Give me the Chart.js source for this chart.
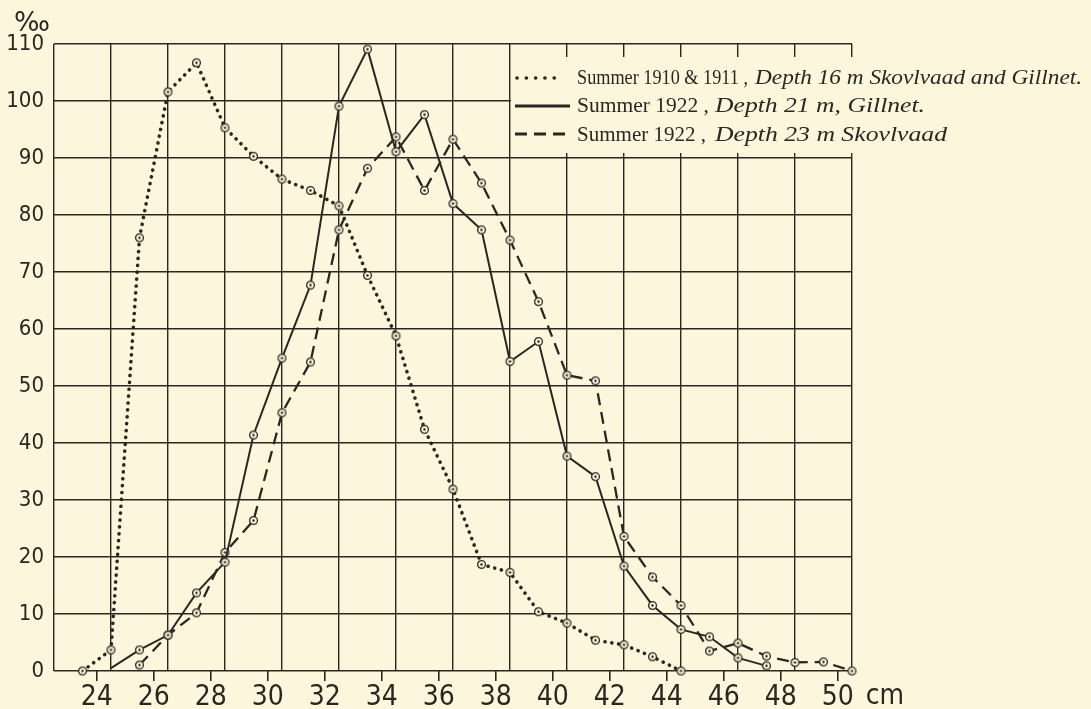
<!DOCTYPE html>
<html lang="en">
<head>
    <meta charset="UTF-8">
    <title>Length distribution, Summer 1910/1911 and 1922</title>
    <script src="https://cdn.jsdelivr.net/npm/chart.js@4.4.0/dist/chart.umd.min.js"></script>
    <style>
        body {
            margin: 0;
            background-color: #fcf7dc;
        }
        #wrap {
            width: 1091px;
            height: 709px;
        }
    </style>
</head>
<body>
    <div id="wrap"><canvas id="chart" width="1091" height="709"></canvas></div>

    <script>
        // length classes (cm), one point per half-cm class
        const sizes = [23.5, 24.5, 25.5, 26.5, 27.5, 28.5, 29.5, 30.5, 31.5, 32.5, 33.5, 34.5, 35.5, 36.5,
                       37.5, 38.5, 39.5, 40.5, 41.5, 42.5, 43.5, 44.5, 45.5, 46.5, 47.5, 48.5, 49.5, 50.5];

        // per mille values
        const summer1910 = [0, 3.7, 76, 101.6, 106.7, 95.3, 90.3, 86.3, 84.3, 81.6, 69.4, 58.8, 42.4, 31.9,
                            18.7, 17.3, 10.4, 8.4, 5.4, 4.6, 2.5, 0, null, null, null, null, null, null];
        const summer1922gill = [null, 0.5, 3.7, 6.3, 13.7, 19.1, 41.4, 54.9, 67.7, 99.1, 109.1, 91.1, 97.6, 82,
                                77.4, 54.3, 57.8, 37.7, 34.1, 18.4, 11.5, 7.3, 6.0, 2.3, 0.9, null, null, null];
        const summer1922skov = [null, null, 1.05, 6.3, 10.2, 20.8, 26.4, 45.3, 54.2, 77.4, 88.2, 93.7, 84.3, 93.3,
                                85.6, 75.6, 64.8, 51.9, 50.9, 23.6, 16.5, 11.5, 3.5, 4.9, 2.6, 1.5, 1.6, 0];

        // axis labels and grid positions
        const xTicks = [24, 26, 28, 30, 32, 34, 36, 38, 40, 42, 44, 46, 48, 50];
        const xGrid = [22.5, 24.5, 26.5, 28.5, 30.5, 32.5, 34.5, 36.5, 38.5, 40.5, 42.5, 44.5, 46.5, 48.5, 50.5];
        const yTicks = [0, 10, 20, 30, 40, 50, 60, 70, 80, 90, 100, 110];

        const legendRows = [
            { plain: 'Summer 1910 & 1911 ,', italic: 'Depth 16 m Skovlvaad and Gillnet.' },
            { plain: 'Summer 1922 ,', italic: 'Depth 21 m, Gillnet.' },
            { plain: 'Summer 1922 ,', italic: 'Depth 23 m Skovlvaad' }
        ];

        const ink = '#2a2720';
        const paper = '#fcf7dc';
        const numFont = "'Liberation Sans Narrow', 'DejaVu Sans Condensed', 'DejaVu Sans', sans-serif";
        const serifFont = "'Liberation Serif', 'DejaVu Serif', serif";

        // small ringed dot used as the point marker
        function makeMarker() {
            const c = document.createElement('canvas');
            c.width = 11;
            c.height = 11;
            const g = c.getContext('2d');
            g.fillStyle = paper;
            g.strokeStyle = ink;
            g.lineWidth = 1.3;
            g.beginPath();
            g.arc(5.5, 5.5, 3.9, 0, Math.PI * 2);
            g.fill();
            g.stroke();
            g.fillStyle = ink;
            g.beginPath();
            g.arc(5.5, 5.5, 1.2, 0, Math.PI * 2);
            g.fill();
            return c;
        }
        const marker = makeMarker();

        function toPoints(values) {
            return sizes.map((x, i) => ({ x: x, y: values[i] }));
        }

        // draw a string squeezed/stretched to a given width
        function fitText(ctx, text, x, baseline, width) {
            const w = ctx.measureText(text).width;
            ctx.save();
            ctx.translate(x, baseline);
            ctx.scale(width / w, 1);
            ctx.fillText(text, 0, 0);
            ctx.restore();
        }

        // legend box, unit labels
        const platePlugin = {
            id: 'plate',
            afterDraw(chart) {
                const ctx = chart.ctx;
                const xs = chart.scales.x;
                const left = xs.getPixelForValue(38.5);
                const right = xs.getPixelForValue(50.5);

                ctx.save();
                // blank out the grid under the legend
                ctx.fillStyle = paper;
                ctx.fillRect(left + 1, 57, right - left + 2, 96);

                ctx.strokeStyle = ink;
                ctx.lineCap = 'round';

                // dotted sample
                ctx.lineWidth = 3.6;
                ctx.setLineDash([0.1, 9.2]);
                ctx.beginPath();
                ctx.moveTo(517, 78);
                ctx.lineTo(563, 78);
                ctx.stroke();

                // solid sample
                ctx.lineCap = 'butt';
                ctx.lineWidth = 3;
                ctx.setLineDash([]);
                ctx.beginPath();
                ctx.moveTo(515, 106);
                ctx.lineTo(570, 106);
                ctx.stroke();

                // dashed sample
                ctx.lineWidth = 2.8;
                ctx.setLineDash([12, 7]);
                ctx.beginPath();
                ctx.moveTo(515, 134);
                ctx.lineTo(570, 134);
                ctx.stroke();
                ctx.setLineDash([]);

                ctx.fillStyle = ink;
                ctx.textBaseline = 'alphabetic';
                const rows = [
                    { base: 84, plainW: 171, itX: 755, itW: 327 },
                    { base: 112, plainW: 132, itX: 715, itW: 210 },
                    { base: 141, plainW: 129, itX: 715, itW: 232 }
                ];
                rows.forEach((r, i) => {
                    ctx.font = '22px ' + serifFont;
                    fitText(ctx, legendRows[i].plain, 577, r.base, r.plainW);
                    ctx.font = 'italic 22px ' + serifFont;
                    fitText(ctx, legendRows[i].italic, r.itX, r.base, r.itW);
                });

                // per mille sign and cm
                ctx.font = '26px ' + numFont;
                fitText(ctx, '\u2030', 14, 31, 36);
                ctx.font = '28px ' + numFont;
                ctx.textBaseline = 'middle';
                ctx.fillText('cm', xs.getPixelForValue(50) + 28, 697);
                ctx.restore();
            }
        };

        new Chart(document.getElementById('chart'), {
            type: 'line',
            data: {
                datasets: [
                    {
                        label: 'Summer 1910 & 1911, Depth 16 m Skovlvaad and Gillnet',
                        data: toPoints(summer1910),
                        borderColor: ink,
                        borderWidth: 3.6,
                        borderDash: [0.1, 6.8],
                        borderCapStyle: 'round',
                        pointStyle: marker,
                        pointRadius: 4,
                        clip: false
                    },
                    {
                        label: 'Summer 1922, Depth 21 m, Gillnet',
                        data: toPoints(summer1922gill),
                        borderColor: ink,
                        borderWidth: 2,
                        pointStyle: marker,
                        // the line starts without a ring
                        pointRadius: ctx => ctx.dataIndex === 1 ? 0 : 4,
                        clip: false
                    },
                    {
                        label: 'Summer 1922, Depth 23 m Skovlvaad',
                        data: toPoints(summer1922skov),
                        borderColor: ink,
                        borderWidth: 2.3,
                        borderDash: [12, 7],
                        pointStyle: marker,
                        pointRadius: 4,
                        clip: false
                    }
                ]
            },
            options: {
                responsive: false,
                animation: false,
                tension: 0,
                layout: {
                    padding: { left: 0, top: 0, right: 239, bottom: 0 }
                },
                plugins: {
                    legend: { display: false },
                    tooltip: { enabled: false }
                },
                scales: {
                    x: {
                        type: 'linear',
                        position: 'bottom',
                        min: 22.5,
                        max: 50.5,
                        afterBuildTicks: s => { s.ticks = xTicks.map(v => ({ value: v })); },
                        afterFit: s => { s.height = 38; },
                        grid: {
                            drawOnChartArea: false,
                            drawTicks: true,
                            tickLength: 10,
                            color: ink,
                            lineWidth: 1.6
                        },
                        border: { display: false },
                        ticks: {
                            color: ink,
                            font: { family: numFont, size: 28 },
                            padding: 0,
                            maxRotation: 0,
                            autoSkip: false
                        }
                    },
                    xg: {
                        type: 'linear',
                        position: 'top',
                        min: 22.5,
                        max: 50.5,
                        afterBuildTicks: s => { s.ticks = xGrid.map(v => ({ value: v })); },
                        afterFit: s => { s.height = 44; },
                        grid: { drawTicks: false, color: ink, lineWidth: 1.4 },
                        border: { display: false },
                        ticks: { display: false }
                    },
                    y: {
                        min: 0,
                        max: 110,
                        position: 'left',
                        afterBuildTicks: s => { s.ticks = yTicks.map(v => ({ value: v })); },
                        afterFit: s => { s.width = 54; },
                        grid: { drawTicks: false, color: ink, lineWidth: 1.4 },
                        border: { display: false },
                        ticks: {
                            color: ink,
                            font: { family: numFont, size: 22 },
                            padding: 10
                        }
                    }
                }
            },
            plugins: [platePlugin]
        });
    </script>
</body>
</html>
